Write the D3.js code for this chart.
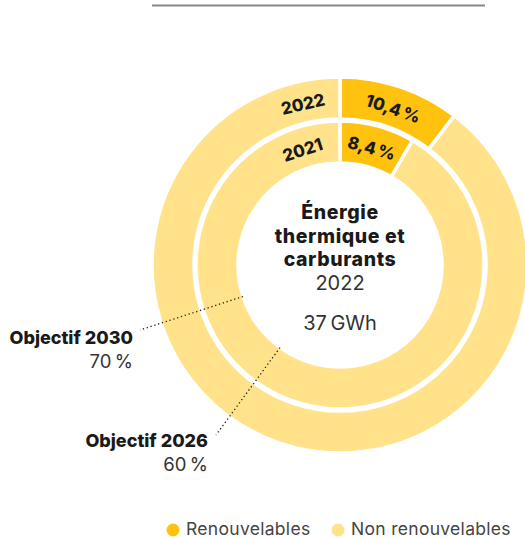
<!DOCTYPE html>
<html>
<head>
<meta charset="utf-8">
<script src="https://cdn.jsdelivr.net/npm/d3@7"></script>
<style>
  body { margin: 0; background: #fff; }
  svg { display: block; font-family: "Inter", "Lato", sans-serif; }
</style>
</head>
<body>
<svg id="chart" width="525" height="538"></svg>
<script>
// data
var years = ["2021", "2022"];
var renewShare = [8.4, 10.4];
var categories = ["Renouvelables", "Non renouvelables"];
var colors = ["#FFC20E", "#FFE289"];
var goals = [
    { label: "Objectif 2030", value: 70 },
    { label: "Objectif 2026", value: 60 },
];
var centerTitle = ["Énergie", "thermique et", "carburants"];
var centerYear = "2022";
var centerTotal = "37\u2009GWh";

var svg = d3.select("#chart"),
    cx = 340,
    cy = 265;

// top rule
svg.append("line")
    .attr("x1", 152).attr("x2", 485)
    .attr("y1", 5.5).attr("y2", 5.5)
    .attr("stroke", "#888").attr("stroke-width", 2);

var g = svg.append("g").attr("transform", "translate(" + cx + "," + cy + ")");

// ring radii: inner ring = 2021, outer ring = 2022
var rings = [
    { inner: 102, outer: 144 },
    { inner: 146, outer: 188 },
];

var angle = d3.scaleLinear().domain([0, 100]).range([0, 2 * Math.PI]);
var fmt = function (v) { return String(v).replace(".", ",") + "\u2009%"; };

years.forEach(function (yr, i) {
    var r = rings[i];
    var arc = d3.arc().innerRadius(r.inner).outerRadius(r.outer);
    var parts = [
        { start: 0, end: renewShare[i], color: colors[0] },
        { start: renewShare[i], end: 100, color: colors[1] },
    ];
    g.selectAll(".ring" + i)
        .data(parts)
        .enter()
        .append("path")
        .attr("class", "ring" + i)
        .attr("d", function (d) {
            return arc({ startAngle: angle(d.start), endAngle: angle(d.end) });
        })
        .attr("fill", function (d) { return d.color; })
        .attr("stroke", "#fff")
        .attr("stroke-width", 3.5);

    var mid = (r.inner + r.outer) / 2 - 2;

    // value label, rotated to the tangent
    var a = angle(renewShare[i] / 2) * 180 / Math.PI;
    g.append("text")
        .attr("transform", "rotate(" + a + ") translate(0," + (-mid) + ")")
        .attr("text-anchor", "middle")
        .attr("dy", "0.35em")
        .attr("font-weight", 800)
        .attr("font-size", 17)
        .attr("fill", "#1a1a1a")
        .text(fmt(renewShare[i]));

    // year label just before 0
    var ay = i === 0 ? -18 : -13;
    g.append("text")
        .attr("transform", "rotate(" + ay + ") translate(0," + (-mid) + ")")
        .attr("text-anchor", "middle")
        .attr("dy", "0.35em")
        .attr("font-weight", 800)
        .attr("font-size", 17)
        .attr("fill", "#1a1a1a")
        .text(yr);
});

// center text
var ct = g.append("g").attr("text-anchor", "middle").attr("fill", "#1a1a1a");
centerTitle.forEach(function (t, k) {
    ct.append("text")
        .attr("y", -46 + k * 23.5)
        .attr("font-weight", 800)
        .attr("font-size", 19.5)
        .attr("letter-spacing", 0.6)
        .text(t);
});
ct.append("text").attr("y", 25).attr("font-size", 20).attr("fill", "#333").text(centerYear);
ct.append("text").attr("y", 65).attr("font-size", 20).attr("fill", "#333").text(centerTotal);

// objectives
var goalPos = [
    { lx: 140, ly: 330, tx: 133, ty: 344 },
    { lx: 216, ly: 435, tx: 208, ty: 447 },
];
goals.forEach(function (d, i) {
    var a = angle(d.value);
    var px = cx + Math.sin(a) * rings[0].inner,
        py = cy - Math.cos(a) * rings[0].inner;
    var p = goalPos[i];
    svg.append("line")
        .attr("x1", px).attr("y1", py)
        .attr("x2", p.lx).attr("y2", p.ly)
        .attr("stroke", "#222")
        .attr("stroke-width", 1.3)
        .attr("stroke-dasharray", "1.3,2.7");
    svg.append("text")
        .attr("x", p.tx).attr("y", p.ty)
        .attr("text-anchor", "end")
        .attr("font-weight", 800)
        .attr("font-size", 18)
        .attr("fill", "#1a1a1a")
        .text(d.label);
    svg.append("text")
        .attr("x", p.tx).attr("y", p.ty + 24)
        .attr("text-anchor", "end")
        .attr("font-size", 18.5)
        .attr("fill", "#333")
        .text(fmt(d.value));
});

// legend
var legX = [173, 338];
categories.forEach(function (c, i) {
    svg.append("circle")
        .attr("cx", legX[i]).attr("cy", 530).attr("r", 6.5)
        .attr("fill", colors[i]);
    svg.append("text")
        .attr("x", legX[i] + 13).attr("y", 535)
        .attr("font-size", 17.5)
        .attr("letter-spacing", 0.3)
        .attr("fill", "#444")
        .text(c);
});
</script>
</body>
</html>
